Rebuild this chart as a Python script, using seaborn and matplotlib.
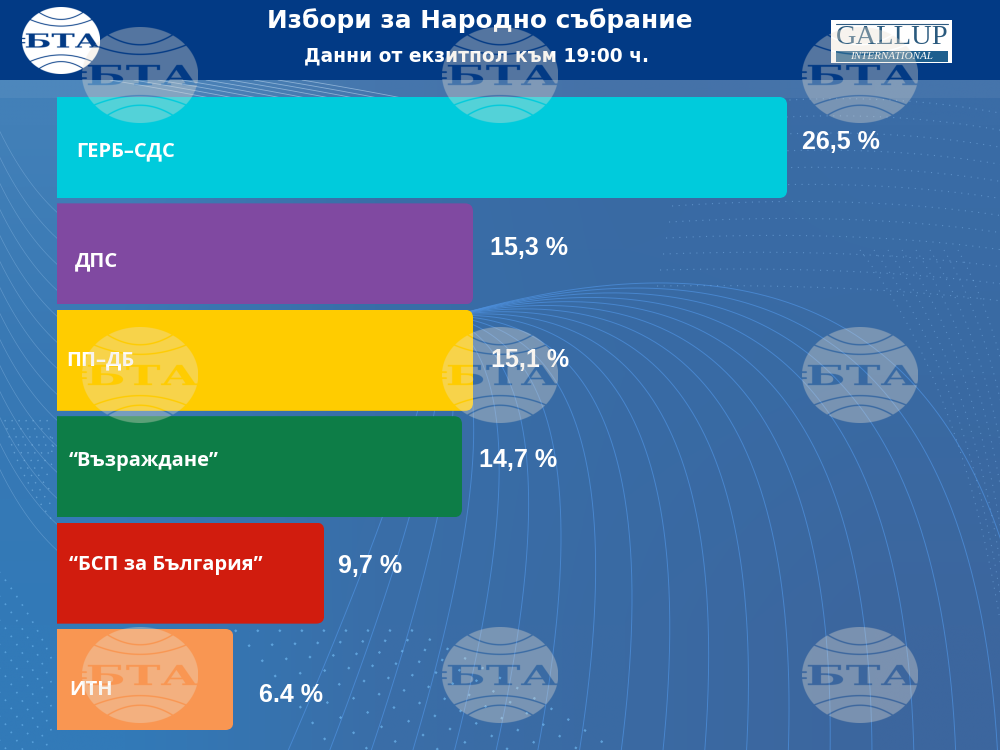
import matplotlib
matplotlib.use('Agg')
import matplotlib.pyplot as plt
import numpy as np
import pandas as pd
import seaborn as sns
from matplotlib.patches import Ellipse, FancyBboxPatch, PathPatch, Rectangle
from matplotlib.textpath import TextPath
from matplotlib.font_manager import FontProperties
from matplotlib.transforms import Affine2D, IdentityTransform

sns.set_theme(style='white')
plt.rcParams['font.family'] = ['Noto Sans', 'DejaVu Sans']

parties = ['ГЕРБ–СДС', 'ДПС', 'ПП–ДБ', '“Възраждане”', '“БСП за България”', 'ИТН']
# bar lengths as drawn in the picture (ДПС is drawn as long as ПП-ДБ)
bar_lengths = [26.5, 15.1, 15.1, 14.7, 9.7, 6.4]
value_labels = ['26,5 %', '15,3 %', '15,1 %', '14,7 %', '9,7 %', '6.4 %']
bar_colors = ['#00cbdc', '#8049a1', '#ffcc00', '#0d7d47', '#d11c0e', '#f99652']

title = 'Избори за Народно събрание'
subtitle = 'Данни от екзитпол към 19:00 ч.'


def bezier(p0, p1, p2, n=200):
    t = np.linspace(0, 1, n)[:, None]
    pts = (1 - t) ** 2 * np.array(p0) + 2 * t * (1 - t) * np.array(p1) + t ** 2 * np.array(p2)
    return pts[:, 0], pts[:, 1]


def bta_mask(w=464, h=384):
    # white ellipse with the arcs and letters cut out, used as an alpha channel
    f = plt.figure(figsize=(w / 100, h / 100), dpi=100, facecolor='black')
    a = f.add_axes([0, 0, 1, 1])
    a.set_xlim(-1, 1)
    a.set_ylim(-1, 1)
    a.axis('off')
    a.add_patch(Ellipse((0, 0), 2, 2, color='white', lw=0))
    for y0, reach, rise in [(0.63, 0.55, 0.2), (0.43, 0.8, 0.2)]:
        x = np.linspace(-1, 1, 200)
        a.plot(x, y0 + rise * (x / reach) ** 2, color='black', lw=4)
        a.plot(x, -y0 - rise * (x / reach) ** 2, color='black', lw=4)
    tp = TextPath((0, 0), 'БТА', size=1, prop=FontProperties(family='DejaVu Serif', weight='bold'))
    box = tp.get_extents()
    fit = Affine2D().translate(-box.x0, -box.y0).scale(1.9 / box.width, 0.42 / box.height).translate(-0.9, -0.21)
    a.add_patch(PathPatch(tp.transformed(fit), color='black', lw=0))
    a.plot([-1, -0.93], [0.06, 0.06], color='black', lw=5)
    a.plot([-1, -0.93], [-0.06, -0.06], color='black', lw=5)
    f.canvas.draw()
    mask = np.asarray(f.canvas.buffer_rgba())[:, :, 0] / 255
    plt.close(f)
    return mask


fig = plt.figure(figsize=(10, 7.5), dpi=100)

# background, in pixel coordinates
bg = fig.add_axes([0, 0, 1, 1], zorder=0)
bg.axis('off')
corners = np.array([[[0x42, 0x80, 0xb8], [0x3a, 0x6e, 0xa8], [0x3a, 0x6a, 0xa3], [0x3a, 0x6c, 0xa6]],
                    [[0x38, 0x78, 0xb4], [0x38, 0x6e, 0xa8], [0x38, 0x6b, 0xa5], [0x39, 0x6a, 0xa3]],
                    [[0x32, 0x7a, 0xb8], [0x3a, 0x6e, 0xa8], [0x3a, 0x6a, 0xa3], [0x3c, 0x66, 0x9e]]], dtype=float) / 255
bg.imshow(corners, extent=(0, 1000, 750, 0), aspect='auto', interpolation='bilinear', zorder=0)
bg.set_xlim(0, 1000)
bg.set_ylim(750, 0)
bg.add_patch(Rectangle((0, 80), 1000, 18, color='white', alpha=0.06, lw=0, zorder=1))

# fan of thin curves
for i in range(19):
    x, y = bezier((440, 320 - i * 0.4), (1000 - i * 32, 150 + i * 16), (1040 - i * 42, 760))
    bg.plot(x, y, color='#4d8fdc', lw=0.7, alpha=0.75, zorder=2)
# fine lines on the left edge
for i in range(14):
    x, y = bezier((-10, 110 + i * 26), (20, 180 + i * 26), (60, 215 + i * 26))
    bg.plot(x, y, color='#8fbce6', lw=0.5, alpha=0.4, zorder=2)
for i in range(9):
    x, y = bezier((110 + i * 24, 80), (170 + i * 24, 90), (210 + i * 24, 98))
    bg.plot(x, y, color='#b8d4ee', lw=0.6, alpha=0.6, zorder=2)
# dotted waves, top right and bottom
for i in range(12):
    x, y = bezier((690 - i * 3, 110 + i * 16), (860, 85 + i * 18), (1010, 115 + i * 17))
    bg.plot(x, y, color='#7eb4ea', lw=0.8, ls=(0, (1, 5)), alpha=0.5, zorder=2)
for i in range(8):
    x, y = bezier((860 + i * 14, 250), (960 + i * 10, 380), (1000 + i * 4, 620))
    bg.plot(x, y, color='#7eb4ea', lw=0.8, ls=(0, (1, 5)), alpha=0.45, zorder=2)
for i in range(9):
    x, y = bezier((235 + i * 22, 630), (290 + i * 30, 690), (340 + i * 36, 760))
    bg.plot(x, y, color='#6fb8f0', lw=1.6, ls=(0, (1, 8)), alpha=0.7, zorder=2)
for i in range(8):
    x, y = bezier((-10, 560 + i * 24), (30, 610 + i * 24), (52, 660 + i * 24))
    bg.plot(x, y, color='#6fb8f0', lw=1.2, ls=(0, (1, 5)), alpha=0.6, zorder=2)
for i in range(7):
    x, y = bezier((5 + i * 7, 420), (15 + i * 7, 470), (52, 520 - i * 14))
    bg.plot(x, y, color='#8cc4f0', lw=1, ls=(0, (1, 5)), alpha=0.5, zorder=2)

# header band
bg.add_patch(Rectangle((0, 0), 1000, 80, color='#023a85', lw=0, zorder=3))

# bars
df = pd.DataFrame({'party': parties, 'length': bar_lengths})
ax = fig.add_axes([0.057, 17.3 / 750, 0.943, 638.4 / 750], zorder=2)
sns.barplot(data=df, x='length', y='party', hue='party', palette=bar_colors, order=parties,
            hue_order=parties, legend=False, width=0.95, saturation=1, orient='h', ax=ax,
            edgecolor='none', linewidth=0)
ax.set_xlim(0, 943 / 27.55)
ax.set_ylim(5.5, -0.5)
ax.axis('off')

fig.canvas.draw()
for bar in ax.patches:
    ext = bar.get_window_extent()
    clip = FancyBboxPatch((ext.x0 - 20, ext.y0), ext.width + 20, ext.height,
                          boxstyle='round,pad=0,rounding_size=8', transform=IdentityTransform())
    bar.set_clip_path(clip)

# offsets from the middle of each bar, pixels
name_x = [19, 18, 9, 12, 12, 12]
name_dy = [3.5, 7.5, 0, -6, -8, 10]
value_dx = [15, 17, 18, 17, 14, 26]
value_dy = [-6, -6, 0, -7, -7, 15]
for i, bar in enumerate(ax.patches):
    mid = bar.get_y() + bar.get_height() / 2
    ax.annotate(parties[i], xy=(0, mid), xytext=(name_x[i], -name_dy[i]), textcoords='offset pixels',
                color='white', fontsize=14.5, fontweight='bold', family=['Open Sans', 'DejaVu Sans'],
                va='center', ha='left')
    ax.annotate(value_labels[i], xy=(bar.get_width(), mid), xytext=(value_dx[i], -value_dy[i]),
                textcoords='offset pixels', color='white', fontsize=18, fontweight='bold',
                family=['Liberation Sans', 'DejaVu Sans'], va='center', ha='left', annotation_clip=False)

# header, logos and watermarks on top
top = fig.add_axes([0, 0, 1, 1], zorder=3)
top.patch.set_visible(False)
top.axis('off')
mask = bta_mask()
rgba = np.ones(mask.shape + (4,))
rgba[:, :, 3] = mask
top.imshow(rgba, extent=(22, 100, 74, 7), aspect='auto', zorder=1)
top.text(479.5, 21, title, color='white', fontsize=17.8, fontweight='bold', family=['DejaVu Sans'],
         ha='center', va='center', zorder=2)
top.text(476.5, 56, subtitle, color='white', fontsize=13.45, fontweight='bold', family=['DejaVu Sans'],
         ha='center', va='center', zorder=2)

top.add_patch(Rectangle((831, 20), 121, 43, color='white', lw=0, zorder=2))
top.plot([836, 948], [23.5, 23.5], color='#2d5a80', lw=0.8, zorder=3)
top.text(892, 37, 'GALLUP', color='#2a5a7e', fontsize=20.5, family=['Liberation Serif'],
         ha='center', va='center', zorder=3)
top.add_patch(Rectangle((836, 51), 112, 11, color='#1e5f8e', lw=0, zorder=3))
top.text(892, 56.5, 'INTERNATIONAL', color='white', fontsize=8, family=['Liberation Serif'], style='italic',
         ha='center', va='center', zorder=4)

for cy in [75, 375, 675]:
    for cx in [140, 500, 860]:
        wm = np.ones(mask.shape + (4,))
        wm[:, :, :3] = [0.92, 0.88, 0.82]
        wm[:, :, 3] = mask * 0.36
        top.imshow(wm, extent=(cx - 58, cx + 58, cy + 48, cy - 48), aspect='auto', zorder=5)
top.set_xlim(0, 1000)
top.set_ylim(750, 0)

fig.savefig('out.png', dpi=100)
